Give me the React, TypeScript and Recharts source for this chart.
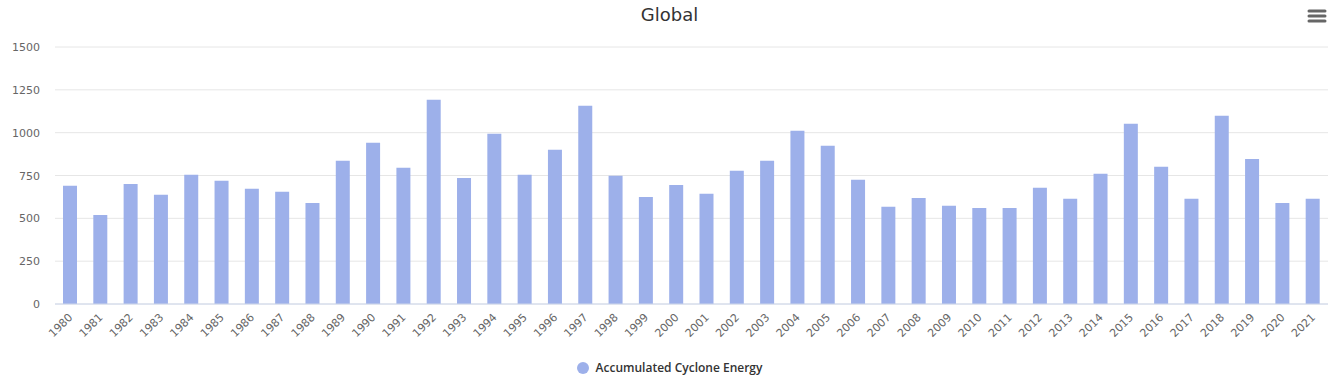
import { BarChart, Bar, CartesianGrid, XAxis, YAxis } from 'recharts';

const years = [
  '1980', '1981', '1982', '1983', '1984', '1985', '1986', '1987', '1988', '1989',
  '1990', '1991', '1992', '1993', '1994', '1995', '1996', '1997', '1998', '1999',
  '2000', '2001', '2002', '2003', '2004', '2005', '2006', '2007', '2008', '2009',
  '2010', '2011', '2012', '2013', '2014', '2015', '2016', '2017', '2018', '2019',
  '2020', '2021',
];

const aceValues = [
  690, 520, 701, 637, 754, 719, 672, 655, 590, 836,
  941, 795, 1192, 736, 994, 754, 900, 1157, 748, 625,
  695, 643, 777, 836, 1011, 923, 725, 567, 619, 573,
  561, 561, 678, 614, 760, 1052, 801, 614, 1099, 847,
  590, 614,
];

const yTicks = [0, 250, 500, 750, 1000, 1250, 1500];

const FONT = '"DejaVu Sans", sans-serif';
const BAR_COLOR = '#9db0ea';

const data = years.map((year, i) => ({ year, ace: aceValues[i] }));

function XTick({ x, y, payload }: any) {
  const tx = x + 3;
  const ty = y + 6;
  return (
    <text
      x={tx}
      y={ty}
      transform={`rotate(-45 ${tx} ${ty})`}
      textAnchor="end"
      fontSize={11}
      fill="#666666"
      fontFamily={FONT}
    >
      {payload.value}
    </text>
  );
}

function YTick({ y, payload }: any) {
  return (
    <text x={40} y={y + 4} textAnchor="end" fontSize={11} fill="#666666" fontFamily={FONT}>
      {payload.value}
    </text>
  );
}

export default function App() {
  return (
    <div style={{ position: 'absolute', left: 0, top: 0, width: 1339, height: 383, background: '#fff' }}>
      <div
        style={{
          position: 'absolute',
          top: 4,
          left: 0,
          width: 1339,
          textAlign: 'center',
          fontFamily: FONT,
          fontSize: 18,
          color: '#333333',
        }}
      >
        Global
      </div>
      <svg style={{ position: 'absolute', left: 1307, top: 8 }} width={20} height={16}>
        {[3, 8, 13].map((yy) => (
          <line key={yy} x1={2} x2={18} y1={yy} y2={yy} stroke="#666666" strokeWidth={3} strokeLinecap="round" />
        ))}
      </svg>
      <BarChart
        width={1339}
        height={383}
        data={data}
        margin={{ top: 47, right: 11, left: 0, bottom: 0 }}
        barCategoryGap="27%"
      >
        <CartesianGrid vertical={false} stroke="#e6e6e6" />
        <XAxis
          dataKey="year"
          interval={0}
          tickLine={false}
          axisLine={{ stroke: '#ccd6eb' }}
          tick={<XTick />}
          height={79}
        />
        <YAxis
          width={55}
          domain={[0, 1500]}
          ticks={yTicks}
          axisLine={false}
          tickLine={false}
          tick={<YTick />}
        />
        <Bar dataKey="ace" fill={BAR_COLOR} barSize={14} isAnimationActive={false} />
      </BarChart>
      <div
        style={{
          position: 'absolute',
          top: 359,
          left: 0,
          width: 1339,
          display: 'flex',
          justifyContent: 'center',
          alignItems: 'center',
          fontFamily: '"Open Sans", sans-serif',
          fontSize: 12,
          fontWeight: 600,
          color: '#333333',
        }}
      >
        <span
          style={{
            display: 'inline-block',
            width: 12,
            height: 12,
            borderRadius: 6,
            background: BAR_COLOR,
            marginRight: 7,
          }}
        />
        <span>Accumulated Cyclone Energy</span>
      </div>
    </div>
  );
}
